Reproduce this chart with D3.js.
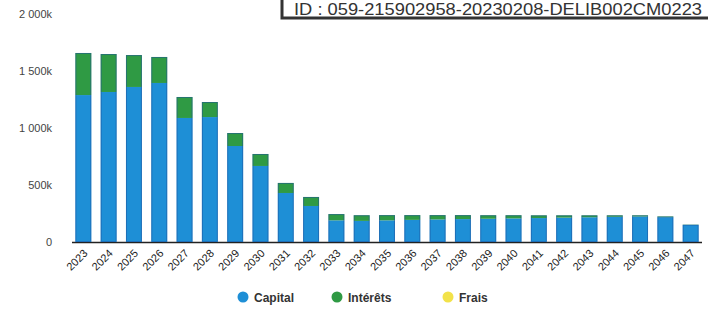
<!DOCTYPE html>
<html>
<head>
<meta charset="utf-8">
<script src="https://cdn.jsdelivr.net/npm/d3@7"></script>
<style>
  body { margin: 0; background: #fff; }
  svg { display: block; font-family: "Liberation Sans", Arial, sans-serif; }
</style>
</head>
<body>
<script>
const w = 708
const h = 313

// amounts in k€
const years = ['2023','2024','2025','2026','2027','2028','2029','2030','2031','2032','2033','2034','2035',
  '2036','2037','2038','2039','2040','2041','2042','2043','2044','2045','2046','2047']
const capital = [1289, 1316, 1360, 1395, 1088, 1096, 842, 667, 430, 316, 190, 185, 190, 194, 198, 201, 204, 207,
  210, 214, 217, 221, 224, 218, 150]
const interets = [369, 333, 280, 228, 184, 132, 114, 105, 88, 79, 55, 50, 46, 42, 38, 35, 31, 28, 24, 20, 17, 13, 10, 6, 2]
const frais = years.map(() => 0)
const yTicks = [0, 500, 1000, 1500, 2000]
const series = ['Capital', 'Intérêts', 'Frais']
const colors = ['#1e8fd6', '#2f9a44', '#f2e24a']
const docId = 'ID : 059-215902958-20230208-DELIB002CM0223'

const rows = years.map((y, i) => ({ year: y, Capital: capital[i], 'Intérêts': interets[i], Frais: frais[i] }))
const stack = d3.stack().keys(series)(rows)

const svg = d3.select('body').append('svg').attr('width', w).attr('height', h)

const x = d3.scaleBand().domain(years).range([66, 708]).padding(0.37)
const y = d3.scaleLinear().domain([0, 2000]).range([242, 14])

// y axis, labels only
const yAxis = svg.append('g').attr('transform', 'translate(56,0)')
  .call(d3.axisLeft(y).tickValues(yTicks).tickSize(0).tickPadding(4)
    .tickFormat(d => d === 0 ? '0' : d3.format(',')(d).replace(',', ' ') + 'k'))
yAxis.select('.domain').remove()
yAxis.selectAll('text').attr('font-size', 11).attr('fill', '#444')
  .attr('font-family', '"Liberation Sans", Arial, sans-serif')

// baseline
svg.append('line').attr('x1', 72).attr('x2', 702).attr('y1', y(0) + 0.5).attr('y2', y(0) + 0.5)
  .attr('stroke', '#222').attr('stroke-width', 1.5)

// stacked bars
svg.selectAll('g.layer').data(stack).enter().append('g').attr('class', 'layer')
  .attr('fill', (d, i) => colors[i])
  .selectAll('rect').data(d => d).enter().append('rect')
  .attr('x', d => x(d.data.year))
  .attr('y', d => y(d[1]))
  .attr('width', x.bandwidth())
  .attr('height', d => y(d[0]) - y(d[1]))

// dark side edges of bars (as in the scan)
svg.selectAll('rect.edge').data(rows).enter().append('rect').attr('class', 'edge')
  .attr('x', d => x(d.year) + 0.5)
  .attr('y', d => y(d.Capital + d['Intérêts']) + 0.5)
  .attr('width', x.bandwidth() - 1)
  .attr('height', d => y(0) - y(d.Capital + d['Intérêts']) - 1)
  .attr('fill', 'none').attr('stroke', '#1d4f9c').attr('stroke-opacity', 0.5)

// x labels
svg.append('g').selectAll('text').data(years).enter().append('text')
  .attr('transform', d => 'translate(' + (x(d) + x.bandwidth() / 2 + 5) + ',254) rotate(-45)')
  .attr('text-anchor', 'end')
  .attr('font-size', 11).attr('fill', '#222')
  .text(d => d)

// legend
const legX = [243, 337, 448]
const leg = svg.append('g').selectAll('g').data(series).enter().append('g')
  .attr('transform', (d, i) => 'translate(' + legX[i] + ',297)')
leg.append('circle').attr('r', 5.5).attr('fill', (d, i) => colors[i])
leg.append('text').attr('x', 11).attr('y', 4.5).attr('font-size', 12).attr('font-weight', 'bold')
  .attr('fill', '#333').text(d => d)

// stamp box at top right
svg.append('rect').attr('x', 282).attr('y', -10).attr('width', 440).attr('height', 28)
  .attr('fill', '#fff').attr('stroke', '#333').attr('stroke-width', 3)
svg.append('text').attr('x', 294).attr('y', 14.5).attr('font-size', 17).attr('fill', '#333')
  .attr('textLength', 408).attr('lengthAdjust', 'spacingAndGlyphs')
  .text(docId)
</script>
</body>
</html>
